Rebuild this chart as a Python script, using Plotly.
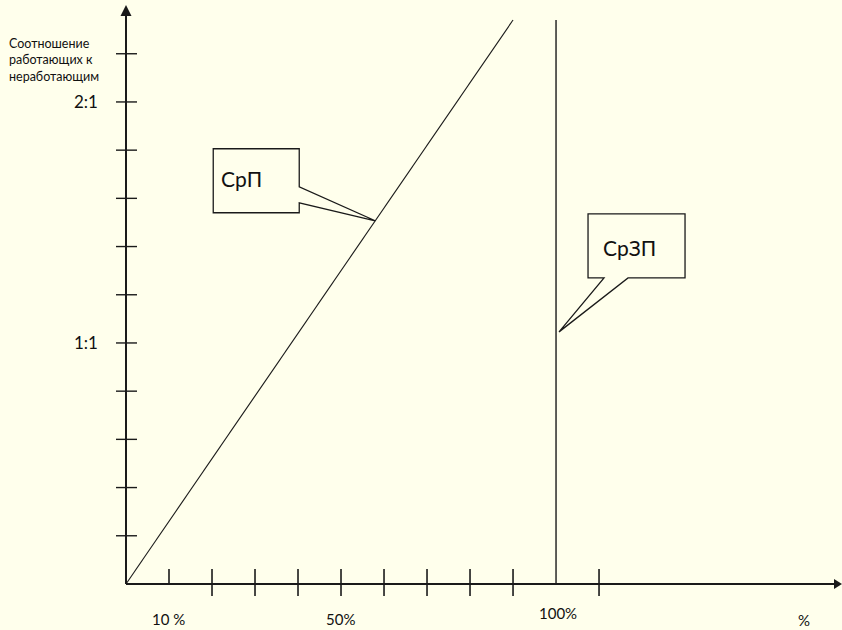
import plotly.graph_objects as go

# Data (x in %, y = ratio of working to non-working)
x_ticks = [10, 20, 30, 40, 50, 60, 70, 80, 90, 110]
y_ticks = [0.2, 0.4, 0.6, 0.8, 1.0, 1.2, 1.4, 1.6, 1.8, 2.0, 2.2]
y_tick_labels = {1.0: "1:1", 2.0: "2:1"}
x_labels = [10, 50, 100]
x_label_text = ["10 %", "50%", "100%"]

srp_x = [0, 90]           # СрП line
srp_y = [0, 2.34]
srzp_x = [100, 100]       # СрЗП line
srzp_y = [0, 2.34]
srp_tip = 0.644           # where the callout points, fraction along СрП
srzp_tip = 1.046          # y where the СрЗП callout points

y_title = "Соотношение<br>работающих к<br>неработающим"

BG = "#FFFFEC"
INK = "#1a1a1a"
X_RANGE = [-29.3, 166.5]
Y_RANGE = [-0.191, 2.423]

fig = go.Figure()

fig.add_trace(go.Scatter(x=srp_x, y=srp_y, mode="lines",
                         line=dict(color=INK, width=1.1), hoverinfo="skip"))
fig.add_trace(go.Scatter(x=srzp_x, y=srzp_y, mode="lines",
                         line=dict(color=INK, width=1.4), hoverinfo="skip"))

shapes = []
# axes
shapes.append(dict(type="line", x0=0, x1=X_RANGE[1] - 1.5, y0=0, y1=0,
                   line=dict(color=INK, width=2)))
shapes.append(dict(type="line", x0=0, x1=0, y0=0, y1=2.36,
                   line=dict(color=INK, width=2)))
# arrow heads
shapes.append(dict(type="path", xref="x", yref="y", xsizemode="pixel", ysizemode="pixel",
                   xanchor=X_RANGE[1], yanchor=0,
                   path="M 0,0 L -8,5 L -8,-5 Z", fillcolor=INK, line=dict(width=0)))
shapes.append(dict(type="path", xref="x", yref="y", xsizemode="pixel", ysizemode="pixel",
                   xanchor=0, yanchor=2.402,
                   path="M 0,0 L -5.5,-11 L 5.5,-11 Z", fillcolor=INK, line=dict(width=0)))

# x ticks
for i, v in enumerate(x_ticks):
    down = 0 if i == 0 else -12
    shapes.append(dict(type="line", xref="x", yref="y", ysizemode="pixel", yanchor=0,
                       x0=v, x1=v, y0=down, y1=15, line=dict(color=INK, width=1.6)))
# y ticks
for v in y_ticks:
    shapes.append(dict(type="line", xref="x", yref="y", xsizemode="pixel", xanchor=0,
                       x0=-10, x1=11, y0=v, y1=v, line=dict(color=INK, width=1.4)))

# callout СрП
tx = srp_x[0] + (srp_x[1] - srp_x[0]) * srp_tip
ty = srp_y[0] + (srp_y[1] - srp_y[0]) * srp_tip
shapes.append(dict(type="path", xref="x", yref="y", xsizemode="pixel", ysizemode="pixel",
                   xanchor=tx, yanchor=ty,
                   path="M -162,72 L -76,72 L -76,34 L 0,0 L -76,18 L -76,8 L -162,8 Z",
                   fillcolor=BG, line=dict(color=INK, width=1.3)))
# callout СрЗП
shapes.append(dict(type="path", xref="x", yref="y", xsizemode="pixel", ysizemode="pixel",
                   xanchor=srzp_x[0], yanchor=srzp_tip,
                   path="M 32,118 L 129,118 L 129,54 L 72,54 L 3,0 L 48,54 L 32,54 Z",
                   fillcolor=BG, line=dict(color=INK, width=1.3)))

font = "Lato, 'Open Sans', sans-serif"
ann = []
ann.append(dict(x=tx, y=ty, xref="x", yref="y", text="СрП", showarrow=False,
                xshift=-134, yshift=42, font=dict(size=21, color="#111", family=font)))
ann.append(dict(x=srzp_x[0], y=srzp_tip, xref="x", yref="y", text="СрЗП", showarrow=False,
                xshift=73, yshift=84, font=dict(size=21, color="#111", family=font)))

for v, t in y_tick_labels.items():
    ann.append(dict(x=0, y=v, xref="x", yref="y", text=t, showarrow=False,
                    xshift=-40, font=dict(size=17, color="#111", family=font)))

for v, t in zip(x_labels, x_label_text):
    ann.append(dict(x=v, y=0, xref="x", yref="y", text=t, showarrow=False,
                    xshift=-1 if v != 100 else 2, yshift=-35 if v != 100 else -29,
                    font=dict(size=15, color="#111", family=font)))
ann.append(dict(x=812 / 842, y=0, xref="paper", yref="y", text="%", showarrow=False,
                yshift=-36, font=dict(size=15, color="#111", family=font)))

ann.append(dict(x=7 / 842, y=1 - 60 / 630, xref="paper", yref="paper", text=y_title,
                showarrow=False, xanchor="left", yanchor="middle", align="left",
                font=dict(size=12.5, color="#111", family=font)))

fig.update_layout(
    width=842, height=630,
    margin=dict(l=0, r=0, t=0, b=0),
    paper_bgcolor=BG, plot_bgcolor=BG,
    showlegend=False,
    xaxis=dict(range=X_RANGE, visible=False, fixedrange=True),
    yaxis=dict(range=Y_RANGE, visible=False, fixedrange=True),
    shapes=shapes,
    annotations=ann,
)

# drop the browser's default page margin so the figure sits at the corner
fig.write_html("out.html", config={"displayModeBar": False},
               post_script="document.body.style.margin='0';"
                           "document.body.style.overflow='hidden';")
